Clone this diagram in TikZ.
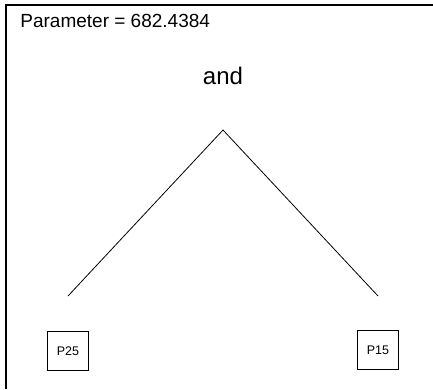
\documentclass[tikz,border=0pt]{standalone}
\usepackage{fontspec}
\setmainfont{Liberation Sans}
\usetikzlibrary{positioning}

\begin{document}
\begin{tikzpicture}[x=1pt, y=1pt, line width=0.8pt,
    leaf/.style={draw, minimum width=41pt, minimum height=39pt, inner sep=0pt, font=\fontsize{12.5}{14}\selectfont}]
    \useasboundingbox (0,0) rectangle (433,-389);

    % frame
    \draw[line width=1.2pt] (433,-5) -- (6,-5) -- (6,-389);

    \node [anchor=base west, inner sep=0pt, font=\fontsize{19}{22}\selectfont] (param) at (20,-27) {Parameter = 682.4384};
    \node [anchor=base, inner sep=0pt, font=\fontsize{24}{28}\selectfont] (op) at (223,-84) {and};

    \coordinate (top) at (223,-130);
    \coordinate [below left=166pt and 155pt of top] (l);
    \coordinate [below right=166pt and 155pt of top] (r);
    \node [leaf, below=35pt of l] (p25) {P25};
    \node [leaf, below=34pt of r] (p15) {P15};

    \draw (l) -- (top) -- (r);
\end{tikzpicture}
\end{document}
